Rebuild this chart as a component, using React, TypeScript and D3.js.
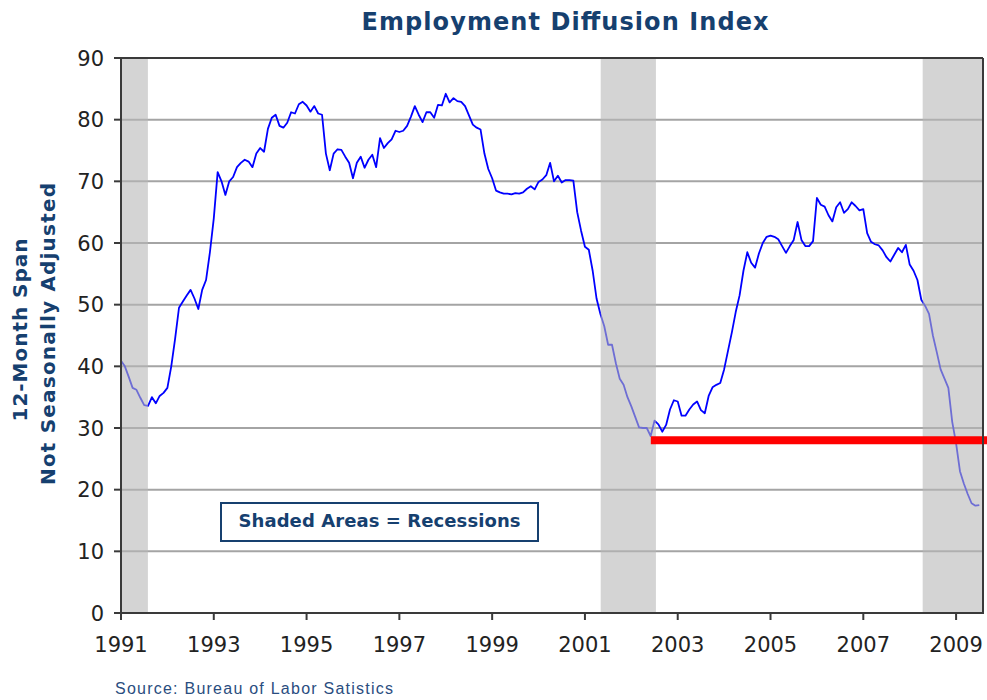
import React from 'react';
import * as d3 from 'd3';

// Monthly values, Employment Diffusion Index (12-month span, NSA)
const startYear = 1991;
const v1991 = [40.9, 40.0, 38.3, 36.5, 36.2, 34.9, 33.7, 33.6, 35.0, 34.0, 35.2, 35.7];
const v1992 = [36.5, 40.0, 44.5, 49.5, 50.5, 51.5, 52.4, 51.0, 49.3, 52.4, 54.0, 58.5];
const v1993 = [64.0, 71.5, 70.0, 67.8, 70.0, 70.7, 72.3, 73.0, 73.5, 73.2, 72.3, 74.5];
const v1994 = [75.4, 74.8, 78.5, 80.3, 80.8, 79.0, 78.7, 79.5, 81.2, 81.0, 82.5, 82.9];
const v1995 = [82.3, 81.3, 82.2, 81.0, 80.8, 74.5, 71.8, 74.5, 75.2, 75.1, 74.0, 73.0];
const v1996 = [70.5, 73.0, 74.0, 72.2, 73.5, 74.3, 72.3, 77.0, 75.4, 76.2, 76.8, 78.2];
const v1997 = [78.0, 78.2, 79.0, 80.5, 82.2, 80.8, 79.6, 81.2, 81.2, 80.3, 82.4, 82.3];
const v1998 = [84.2, 82.8, 83.5, 83.0, 82.9, 82.2, 80.7, 79.2, 78.7, 78.4, 74.5, 72.0];
const v1999 = [70.5, 68.5, 68.2, 68.0, 68.0, 67.9, 68.1, 68.0, 68.2, 68.8, 69.2, 68.7];
const v2000 = [69.9, 70.3, 71.0, 73.0, 70.0, 70.9, 69.8, 70.2, 70.2, 70.1, 65.0, 62.0];
const v2001 = [59.4, 58.9, 55.5, 51.0, 48.5, 46.5, 43.5, 43.5, 40.5, 38.0, 37.0, 35.0];
const v2002 = [33.5, 31.8, 30.1, 30.0, 30.0, 28.7, 31.2, 30.6, 29.4, 30.5, 33.0, 34.5];
const v2003 = [34.3, 32.0, 32.0, 33.0, 33.8, 34.3, 32.9, 32.4, 35.2, 36.6, 37.0, 37.3];
const v2004 = [39.5, 42.5, 45.5, 48.8, 51.5, 55.5, 58.5, 56.8, 56.0, 58.3, 60.0, 61.0];
const v2005 = [61.2, 61.0, 60.6, 59.5, 58.4, 59.5, 60.5, 63.4, 60.5, 59.5, 59.5, 60.3];
const v2006 = [67.3, 66.2, 65.9, 64.5, 63.5, 65.8, 66.6, 64.9, 65.5, 66.6, 66.0, 65.3];
const v2007 = [65.5, 61.6, 60.2, 59.8, 59.6, 58.8, 57.7, 57.0, 58.1, 59.2, 58.5, 59.7];
const v2008 = [56.5, 55.5, 54.0, 50.8, 49.8, 48.5, 45.0, 42.3, 39.5, 38.0, 36.5, 31.0];
const v2009 = [27.5, 23.0, 21.0, 19.3, 17.8, 17.4, 17.5];

const yearTicks = [1991, 1993, 1995, 1997, 1999, 2001, 2003, 2005, 2007, 2009];
const valueTicks = [0, 10, 20, 30, 40, 50, 60, 70, 80, 90];
const recessions: [number, number][] = [
  [1991.0, 1991.58],
  [2001.34, 2002.53],
  [2008.28, 2009.58],
];
const benchmarkValue = 28;
const benchmarkStart = 2002.42;

const titleText = 'Employment Diffusion Index';
const yTitle1 = '12-Month Span';
const yTitle2 = 'Not Seasonally Adjusted';
const legendText = 'Shaded Areas = Recessions';
const sourceText = 'Source: Bureau of Labor Satistics';

const allValues = [
  ...v1991, ...v1992, ...v1993, ...v1994, ...v1995, ...v1996, ...v1997,
  ...v1998, ...v1999, ...v2000, ...v2001, ...v2002, ...v2003, ...v2004,
  ...v2005, ...v2006, ...v2007, ...v2008, ...v2009,
];
const series = allValues.map((v, i) => ({ t: startYear + i / 12, v }));

const W = 987;
const H = 700;
const L = 121, R = 983, T = 58, B = 613;
const NAVY = '#16406F';

export default function App() {
  const x = d3.scaleLinear().domain([1991, 2009.58]).range([L, R]);
  const y = d3.scaleLinear().domain([0, 90]).range([B, T]);
  const line = d3.line<{ t: number; v: number }>()
    .x(d => x(d.t))
    .y(d => y(d.v));

  return (
    <div style={{ position: 'fixed', left: 0, top: 0 }}>
      <svg width={W} height={H} style={{ display: 'block', background: '#fff' }}>
        <rect x={0} y={0} width={W} height={H} fill="#fff" />
        {/* gridlines */}
        {valueTicks.filter(v => v > 0 && v < 90).map(v => (
          <line key={'g' + v} x1={L} x2={R} y1={y(v)} y2={y(v)} stroke="#A4A4A4" strokeWidth={2} />
        ))}
        {/* data line */}
        <path d={line(series) || ''} fill="none" stroke="#0000FF" strokeWidth={1.8} strokeLinejoin="round" />
        {/* recession shading */}
        {recessions.map(([a, b], i) => (
          <rect key={'r' + i} x={x(a)} y={T} width={x(b) - x(a)} height={B - T} fill="#B8B8B8" fillOpacity={0.6} />
        ))}
        {/* benchmark line */}
        <line x1={x(benchmarkStart)} x2={W} y1={y(benchmarkValue)} y2={y(benchmarkValue)} stroke="#FF0000" strokeWidth={8} />
        {/* frame */}
        <line x1={L} x2={R} y1={T} y2={T} stroke="#3A3A3A" strokeWidth={2} />
        <line x1={R} x2={R} y1={T} y2={B} stroke="#3A3A3A" strokeWidth={2} />
        <line x1={L} x2={L} y1={T - 1} y2={B + 1} stroke="#3A3A3A" strokeWidth={2} />
        <line x1={L} x2={R + 1} y1={B} y2={B} stroke="#3A3A3A" strokeWidth={2} />
        {/* y ticks and labels */}
        {valueTicks.map(v => (
          <g key={'y' + v}>
            <line x1={L - 7} x2={L} y1={y(v)} y2={y(v)} stroke="#3A3A3A" strokeWidth={2} />
            <text x={104} y={y(v)} dy="0.36em" textAnchor="end" fontFamily="DejaVu Sans" fontSize={21} fill="#222">{v}</text>
          </g>
        ))}
        {/* x ticks and labels */}
        {yearTicks.map(t => (
          <g key={'x' + t}>
            <line x1={x(t)} x2={x(t)} y1={B} y2={B + 7} stroke="#3A3A3A" strokeWidth={2} />
            <text x={x(t)} y={652} textAnchor="middle" fontFamily="DejaVu Sans" fontSize={21} fill="#222">{t}</text>
          </g>
        ))}
        {/* title */}
        <text x={565} y={30} textAnchor="middle" fontFamily="DejaVu Sans" fontWeight="bold" fontSize={24}
          fill={NAVY} textLength={407} lengthAdjust="spacing">{titleText}</text>
        {/* y axis titles */}
        <text transform="translate(27,330) rotate(-90)" textAnchor="middle" fontFamily="DejaVu Sans" fontWeight="bold"
          fontSize={20} fill={NAVY} textLength={183} lengthAdjust="spacing">{yTitle1}</text>
        <text transform="translate(55,334) rotate(-90)" textAnchor="middle" fontFamily="DejaVu Sans" fontWeight="bold"
          fontSize={20} fill={NAVY} textLength={302} lengthAdjust="spacing">{yTitle2}</text>
        {/* legend box */}
        <rect x={221} y={503} width={317} height={38} fill="#fff" stroke={NAVY} strokeWidth={2} />
        <text x={379.5} y={527} textAnchor="middle" fontFamily="DejaVu Sans" fontWeight="bold" fontSize={18}
          fill={NAVY} textLength={282} lengthAdjust="spacing">{legendText}</text>
        {/* source */}
        <text x={115} y={694} fontFamily="Liberation Sans" fontSize={16} fill="#2A4D80"
          textLength={278} lengthAdjust="spacing">{sourceText}</text>
      </svg>
    </div>
  );
}
